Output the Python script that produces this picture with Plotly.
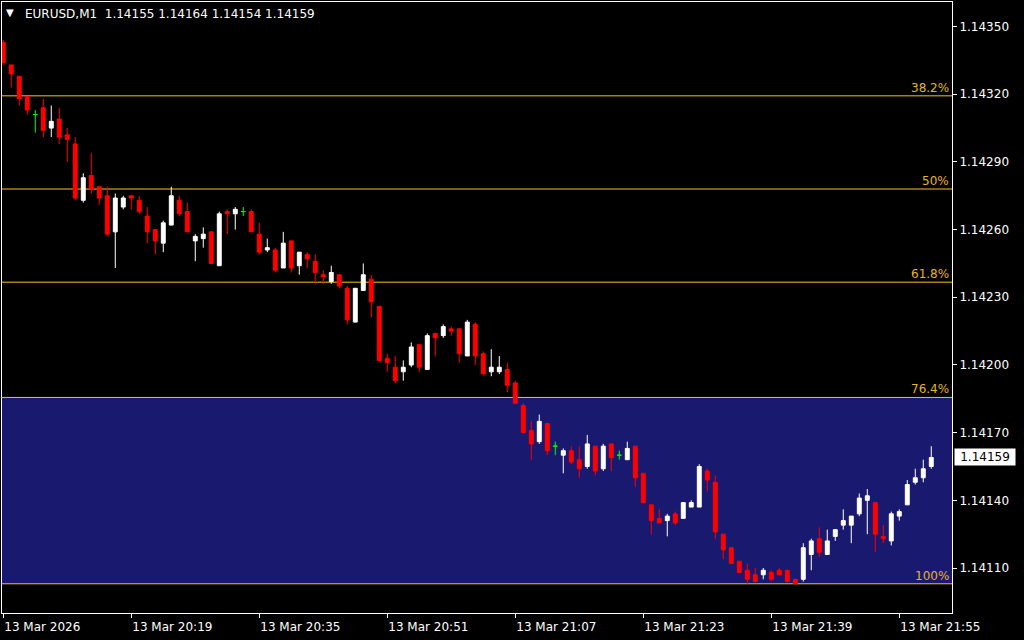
import plotly.graph_objects as go
import pandas as pd

# ---------------- data ----------------
symbol = "EURUSD,M1"
bar_times = [t.strftime("%H:%M") for t in pd.date_range("2026-03-13 20:03", periods=117, freq="min")]

opens = [1.14343, 1.14333, 1.14328, 1.14319, 1.14311, 1.14314, 1.14305, 1.14309, 1.14302, 1.14298,
         1.14273, 1.14284, 1.14279, 1.14275, 1.14259, 1.14270, 1.14275, 1.14273, 1.14266, 1.14260,
         1.14254, 1.14262, 1.14273, 1.14268, 1.14255, 1.14256, 1.14259, 1.14244, 1.14268, 1.14267,
         1.14268, 1.14268, 1.14258, 1.14251, 1.14251, 1.14243, 1.14255, 1.14244, 1.14249, 1.14246,
         1.14240, 1.14237, 1.14240, 1.14234, 1.14219, 1.14233, 1.14238, 1.14226, 1.14203, 1.14199,
         1.14197, 1.14200, 1.14209, 1.14198, 1.14214, 1.14213, 1.14216, 1.14216, 1.14204, 1.14218,
         1.14205, 1.14197, 1.14197, 1.14198, 1.14192, 1.14182, 1.14171, 1.14166, 1.14174, 1.14164,
         1.14160, 1.14162, 1.14158, 1.14155, 1.14164, 1.14154, 1.14165, 1.14160, 1.14158, 1.14164,
         1.14152, 1.14138, 1.14132, 1.14131, 1.14134, 1.14132, 1.14137, 1.14137, 1.14153, 1.14148,
         1.14125, 1.14119, 1.14113, 1.14109, 1.14107, 1.14107, 1.14108, 1.14109, 1.14109, 1.14105,
         1.14105, 1.14116, 1.14123, 1.14116, 1.14124, 1.14129, 1.14129, 1.14134, 1.14140, 1.14139,
         1.14124, 1.14122, 1.14133, 1.14138, 1.14148, 1.14150, 1.14155]
highs = [1.14344, 1.14333, 1.14328, 1.14319, 1.14313, 1.14318, 1.14315, 1.14314, 1.14305, 1.14301,
         1.14285, 1.14294, 1.14279, 1.14279, 1.14276, 1.14275, 1.14275, 1.14275, 1.14270, 1.14260,
         1.14264, 1.14279, 1.14275, 1.14272, 1.14258, 1.14261, 1.14259, 1.14268, 1.14269, 1.14270,
         1.14270, 1.14269, 1.14263, 1.14256, 1.14252, 1.14259, 1.14255, 1.14250, 1.14250, 1.14249,
         1.14242, 1.14244, 1.14240, 1.14235, 1.14234, 1.14245, 1.14240, 1.14226, 1.14205, 1.14204,
         1.14202, 1.14210, 1.14209, 1.14214, 1.14214, 1.14218, 1.14217, 1.14216, 1.14220, 1.14219,
         1.14206, 1.14207, 1.14204, 1.14201, 1.14193, 1.14183, 1.14175, 1.14178, 1.14174, 1.14166,
         1.14163, 1.14164, 1.14164, 1.14169, 1.14164, 1.14165, 1.14165, 1.14162, 1.14166, 1.14164,
         1.14152, 1.14138, 1.14136, 1.14134, 1.14135, 1.14139, 1.14140, 1.14156, 1.14154, 1.14151,
         1.14125, 1.14119, 1.14113, 1.14112, 1.14110, 1.14110, 1.14109, 1.14110, 1.14109, 1.14105,
         1.14121, 1.14123, 1.14128, 1.14127, 1.14127, 1.14136, 1.14133, 1.14143, 1.14145, 1.14139,
         1.14129, 1.14135, 1.14136, 1.14149, 1.14154, 1.14158, 1.14164]
lows = [1.14333, 1.14323, 1.14315, 1.14311, 1.14303, 1.14301, 1.14301, 1.14298, 1.14290, 1.14273,
        1.14272, 1.14276, 1.14271, 1.14257, 1.14243, 1.14269, 1.14269, 1.14267, 1.14254, 1.14249,
        1.14250, 1.14262, 1.14266, 1.14259, 1.14246, 1.14252, 1.14245, 1.14244, 1.14258, 1.14260,
        1.14266, 1.14259, 1.14249, 1.14250, 1.14241, 1.14243, 1.14241, 1.14240, 1.14243, 1.14236,
        1.14236, 1.14236, 1.14234, 1.14218, 1.14219, 1.14233, 1.14221, 1.14202, 1.14197, 1.14192,
        1.14193, 1.14199, 1.14197, 1.14198, 1.14204, 1.14212, 1.14213, 1.14201, 1.14204, 1.14200,
        1.14196, 1.14195, 1.14196, 1.14188, 1.14183, 1.14170, 1.14158, 1.14165, 1.14160, 1.14160,
        1.14152, 1.14156, 1.14150, 1.14154, 1.14151, 1.14153, 1.14153, 1.14158, 1.14158, 1.14146,
        1.14139, 1.14125, 1.14130, 1.14124, 1.14129, 1.14132, 1.14137, 1.14137, 1.14144, 1.14123,
        1.14114, 1.14112, 1.14108, 1.14103, 1.14104, 1.14105, 1.14104, 1.14107, 1.14104, 1.14103,
        1.14104, 1.14109, 1.14115, 1.14116, 1.14122, 1.14127, 1.14121, 1.14133, 1.14125, 1.14117,
        1.14121, 1.14120, 1.14131, 1.14138, 1.14147, 1.14148, 1.14154]
closes = [1.14334, 1.14329, 1.14318, 1.14313, 1.14311, 1.14304, 1.14308, 1.14301, 1.14300, 1.14274,
          1.14283, 1.14278, 1.14274, 1.14258, 1.14274, 1.14274, 1.14274, 1.14268, 1.14259, 1.14255,
          1.14263, 1.14275, 1.14267, 1.14259, 1.14257, 1.14258, 1.14245, 1.14267, 1.14267, 1.14269,
          1.14268, 1.14259, 1.14250, 1.14252, 1.14242, 1.14254, 1.14243, 1.14250, 1.14247, 1.14241,
          1.14239, 1.14241, 1.14235, 1.14220, 1.14234, 1.14240, 1.14228, 1.14202, 1.14201, 1.14193,
          1.14199, 1.14208, 1.14199, 1.14213, 1.14212, 1.14217, 1.14215, 1.14205, 1.14219, 1.14204,
          1.14196, 1.14199, 1.14199, 1.14191, 1.14183, 1.14170, 1.14165, 1.14175, 1.14162, 1.14164,
          1.14162, 1.14157, 1.14154, 1.14165, 1.14153, 1.14164, 1.14159, 1.14160, 1.14163, 1.14150,
          1.14139, 1.14131, 1.14130, 1.14133, 1.14130, 1.14139, 1.14139, 1.14155, 1.14149, 1.14126,
          1.14118, 1.14112, 1.14108, 1.14105, 1.14104, 1.14109, 1.14105, 1.14107, 1.14104, 1.14103,
          1.14119, 1.14122, 1.14117, 1.14122, 1.14127, 1.14131, 1.14133, 1.14141, 1.14142, 1.14125,
          1.14123, 1.14134, 1.14135, 1.14147, 1.14150, 1.14154, 1.14159]

# Fibonacci retracement (0% = high, 100% = low)
fib_high = 1.14453
fib_low = 1.14103
fib_levels = [0.0, 23.6, 38.2, 50.0, 61.8, 76.4, 100.0]
zone_levels = [76.4, 100.0]  # shaded rectangle between these levels

# axis ticks
y_ticks = [1.14110, 1.14140, 1.14170, 1.14200, 1.14230, 1.14260, 1.14290, 1.14320, 1.14350]
x_tick_times = ["20:03", "20:19", "20:35", "20:51", "21:07", "21:23", "21:39", "21:55"]
x_tick_labels = ["13 Mar 2026", "13 Mar 20:19", "13 Mar 20:35", "13 Mar 20:51",
                 "13 Mar 21:07", "13 Mar 21:23", "13 Mar 21:39", "13 Mar 21:55"]

# ---------------- styles ----------------
BG = "#000000"
FG = "#FFFFFF"
BULL = "#FFFFFF"
BEAR = "#FF0000"
DOJI = "#00FF00"
FIB_LINE = "#FFC20E"
FIB_TEXT = "#E6B422"
ZONE = "#191970"
FONT = "DejaVu Sans"

y_min, y_max = 1.1409005, 1.143609
x_min, x_max = -0.16, 118.59

n = len(opens)
idx = list(range(n))
is_doji = [opens[i] == closes[i] for i in idx]
norm = [i for i in idx if not is_doji[i]]
dj = [i for i in idx if is_doji[i]]

fig = go.Figure()
fig.add_trace(go.Candlestick(
    x=norm,
    open=[opens[i] for i in norm], high=[highs[i] for i in norm],
    low=[lows[i] for i in norm], close=[closes[i] for i in norm],
    increasing=dict(line=dict(color=BULL, width=1), fillcolor=BULL),
    decreasing=dict(line=dict(color=BEAR, width=1), fillcolor=BEAR),
    whiskerwidth=0, hoverinfo="skip", showlegend=False,
))
fig.add_trace(go.Candlestick(
    x=dj,
    open=[opens[i] for i in dj], high=[highs[i] for i in dj],
    low=[lows[i] for i in dj], close=[closes[i] for i in dj],
    increasing=dict(line=dict(color=DOJI, width=1), fillcolor=DOJI),
    decreasing=dict(line=dict(color=DOJI, width=1), fillcolor=DOJI),
    whiskerwidth=0, hoverinfo="skip", showlegend=False,
))


def fib_price(level):
    return fib_low + (fib_high - fib_low) * (1 - level / 100.0)


shapes = []
annotations = []
shapes.append(dict(type="rect", xref="paper", yref="y", x0=0, x1=1,
                   y0=fib_price(zone_levels[1]), y1=fib_price(zone_levels[0]),
                   fillcolor=ZONE, line=dict(width=0), layer="below"))
for lv in fib_levels:
    p = fib_price(lv)
    if not (y_min < p < y_max):
        continue
    shapes.append(dict(type="line", xref="paper", yref="y", x0=0, x1=1, y0=p, y1=p,
                       line=dict(color=FIB_LINE, width=1), layer="below"))
    annotations.append(dict(xref="paper", yref="y", x=1, y=p, xanchor="right", yanchor="bottom",
                            xshift=-1, yshift=-1, showarrow=False, text=f"{lv:g}%",
                            font=dict(family=FONT, size=12, color=FIB_TEXT)))

# current price label
annotations.append(dict(xref="paper", yref="y", x=1, y=closes[-1], xanchor="left", yanchor="middle",
                        xshift=2, showarrow=False, text=f"{closes[-1]:.5f}", bgcolor="#FFFFFF",
                        borderpad=1, width=58, align="center",
                        font=dict(family=FONT, size=12, color="#000000")))

# header
annotations.append(dict(xref="paper", yref="paper", x=0, y=1, xanchor="left", yanchor="top",
                        xshift=2, yshift=-3, showarrow=False, text="▼",
                        font=dict(family=FONT, size=10, color=FG)))
annotations.append(dict(xref="paper", yref="paper", x=0, y=1, xanchor="left", yanchor="top",
                        xshift=21, yshift=-3, showarrow=False,
                        text=f"{symbol}  {opens[-1]:.5f} {highs[-1]:.5f} {lows[-1]:.5f} {closes[-1]:.5f}",
                        font=dict(family=FONT, size=12, color=FG)))

x_tickvals = [bar_times.index(t) for t in x_tick_times]

fig.update_layout(
    width=1024, height=640,
    margin=dict(l=2, r=72, t=2, b=27),
    paper_bgcolor=BG, plot_bgcolor=BG,
    font=dict(family=FONT, size=12, color=FG),
    showlegend=False,
    shapes=shapes, annotations=annotations,
    xaxis=dict(range=[x_min, x_max], tickvals=x_tickvals, ticktext=x_tick_labels,
               ticks="outside", ticklen=4, tickcolor=FG, ticklabelposition="outside right",
               ticklabelstandoff=3,
               showline=True, linecolor=FG, linewidth=1, mirror=True,
               showgrid=False, zeroline=False, rangeslider=dict(visible=False),
               tickfont=dict(family=FONT, size=12, color=FG)),
    yaxis=dict(range=[y_min, y_max], side="right", tickvals=y_ticks,
               ticktext=[f"{v:.5f}" for v in y_ticks],
               ticks="outside", ticklen=4, tickcolor=FG,
               showline=True, linecolor=FG, linewidth=1, mirror=True,
               showgrid=False, zeroline=False,
               tickfont=dict(family=FONT, size=12, color=FG)),
)

fig.write_html("out.html", config={"displayModeBar": False},
               post_script="document.body.style.margin='0';document.body.style.background='#000';")
